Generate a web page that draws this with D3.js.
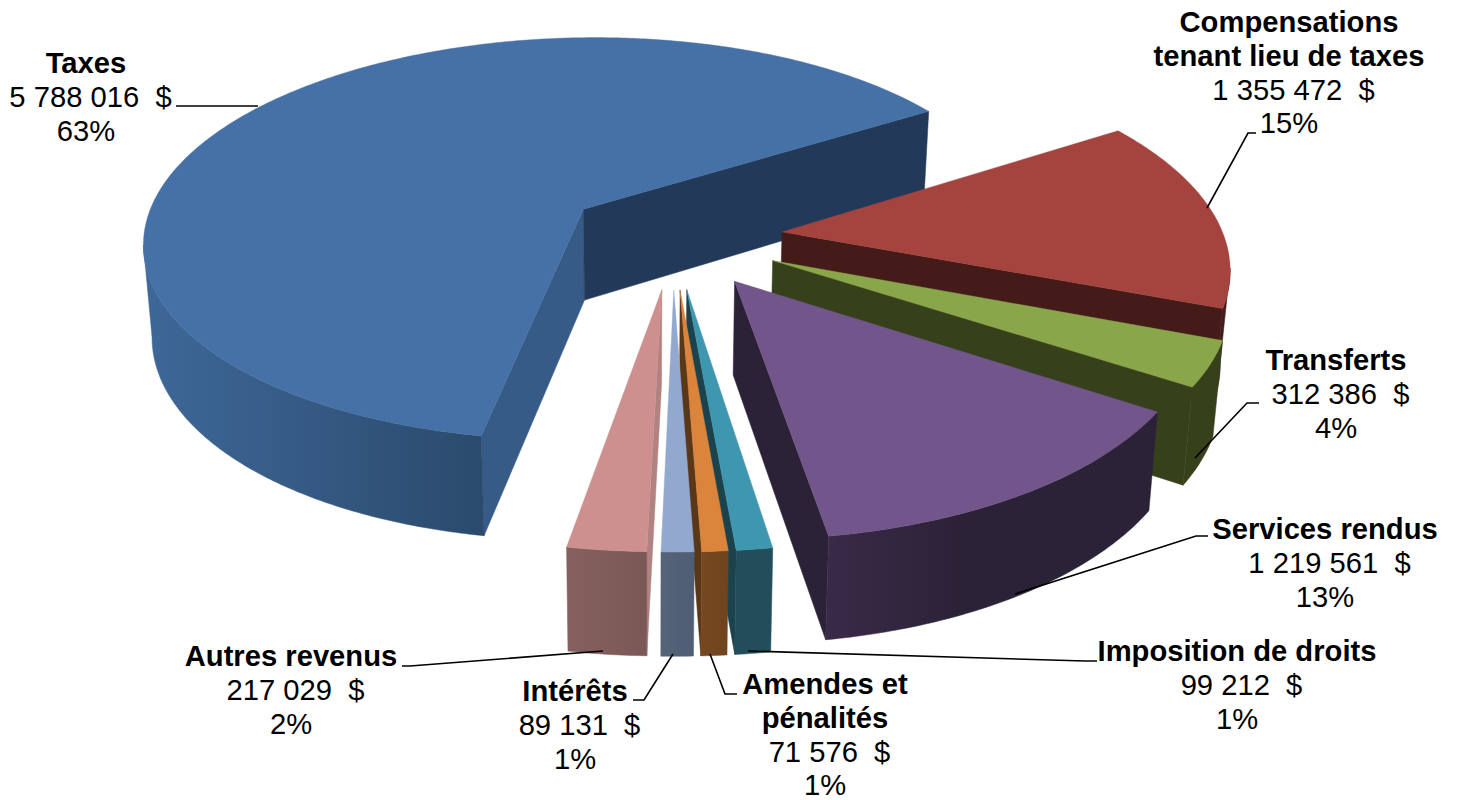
<!DOCTYPE html>
<html>
<head>
<meta charset="utf-8">
<script src="https://d3js.org/d3.v7.min.js"></script>
<style>
  html, body { margin: 0; padding: 0; background: #fff; }
  text { font-family: "Liberation Sans", Arial, sans-serif; font-size: 29.2px; fill: #000; white-space: pre; }
</style>
</head>
<body>
<div id="chart"></div>
<script>
// values
var categories = ["Taxes", "Compensations tenant lieu de taxes", "Transferts", "Services rendus",
  "Imposition de droits", "Amendes et pénalités", "Intérêts", "Autres revenus"];
var amounts = [5788016, 1355472, 312386, 1219561, 99212, 71576, 89131, 217029];
var percentLabels = ["63%", "15%", "4%", "13%", "1%", "1%", "1%", "2%"];

// label wrapping, the chart breaks two of the names over two lines
var nameLines = [["Taxes"], ["Compensations", "tenant lieu de taxes"], ["Transferts"], ["Services rendus"],
  ["Imposition de droits"], ["Amendes et", "pénalités"], ["Intérêts"], ["Autres revenus"]];

// colours
var topColors = ["#4671a7", "#a5433f", "#8aa64a", "#72568b", "#3f97af", "#da843c", "#92a8cf", "#ce908f"];
var startWallColors = ["#375b87", "#451b19", "#36411b", "#2c2238", "#1b434d", "#593717", "#566479", "#b08280"];
var endWallColors = ["#22395a", "#451b19", "#36411b", "#2c2238", "#1b434d", "#593717", "#566479", "#85605e"];
var rimLeftColors = ["#3e6899", "#451b19", "#36411b", "#3a2a48", "#224e5c", "#78481f", "#566479", "#85605e"];
var rimRightColors = ["#2b4a6c", "#451b19", "#36411b", "#2c2238", "#224e5c", "#6e441e", "#4f5d75", "#7a5856"];
var rimFade = [1, 1, 1, 0.4, 1, 1, 1, 1]; // where along the wall the dark end is reached

// label placement: centre x, first baseline
var labelX = [86, 1289, 1336, 1325, 1237, 825, 575, 291];
var labelY = [73, 32, 370, 539, 661, 694, 701, 666];
var lineStep = 33.8;
var amountShift = 4.5; // the amount line has a trailing space in the original

// leader lines, from the slice out to the label
var leaders = [
  [[176, 106], [258, 106]],
  [[1207, 208], [1248, 133], [1256, 133]],
  [[1195, 458], [1247, 403], [1259, 403]],
  [[1015, 594], [1196, 536], [1208, 536]],
  [[748, 651], [1085, 661], [1097, 661]],
  [[710, 654], [725, 694], [737, 694]],
  [[673, 654], [644, 700], [633, 700]],
  [[603, 651], [410, 666], [402, 666]]
];

var svgWidth = 1458;
var svgHeight = 800;

// pie geometry and camera
var radius = 442;
var explode = 110;
var thickness = 92;
var firstAngle = -170.1 * Math.PI / 180;
var centerX = 673;
var centerY = 237;
var camera = 2950;
var tilt = 0.464;
var vanishX = 650;

var svg = d3.select("#chart")
  .append("svg")
  .attr("width", svgWidth)
  .attr("height", svgHeight);

var defs = svg.append("defs");

// world point on the disc -> screen, drop is how far below the top face
function project(wx, wy, drop) {
  var s = 1 / (1 + wy / camera);
  var x = centerX + s * wx;
  var y = centerY - s * tilt * wy;
  if (drop) {
    y += thickness * Math.pow(s, 0.6);
    x = vanishX + (x - vanishX) * 0.983;
  }
  return [x, y];
}

var pie = d3.pie()
  .sort(null)
  .startAngle(firstAngle)
  .endAngle(firstAngle + 2 * Math.PI);

var arcs = pie(amounts);
var line = d3.line();

arcs.forEach(function(d, i) {
  var mid = (d.startAngle + d.endAngle) / 2;
  var ox = explode * Math.sin(mid);
  var oy = explode * Math.cos(mid);

  function rim(a, drop) {
    return project(ox + radius * Math.sin(a), oy + radius * Math.cos(a), drop);
  }
  var apex = project(ox, oy, false);
  var apexLow = project(ox, oy, true);

  var angles = d3.range(d.startAngle, d.endAngle, 0.01).concat([d.endAngle]);
  var g = svg.append("g").attr("class", "slice");

  // the two cut faces, a face turned away from the viewer is skipped
  var startWall = [apex, rim(d.startAngle), rim(d.startAngle, true), apexLow];
  var endWall = [apex, rim(d.endAngle), rim(d.endAngle, true), apexLow];
  if (d3.polygonArea(startWall) > 0) {
    g.append("path")
      .attr("d", line(startWall) + "Z")
      .attr("fill", startWallColors[i])
      .attr("stroke", startWallColors[i])
      .attr("stroke-width", 0.5);
  }
  if (d3.polygonArea(endWall) < 0) {
    g.append("path")
      .attr("d", line(endWall) + "Z")
      .attr("fill", endWallColors[i])
      .attr("stroke", endWallColors[i])
      .attr("stroke-width", 0.5);
  }

  // outer wall, only up to the silhouette of the disc (about 100 degrees either side)
  var front = angles.filter(function(a) { return Math.cos(a) < -0.17; });
  if (front.length > 1) {
    var upper = front.map(function(a) { return rim(a); });
    var lower = front.map(function(a) { return rim(a, true); }).reverse();
    var grad = defs.append("linearGradient")
      .attr("id", "rim" + i)
      .attr("x1", 0).attr("x2", 1).attr("y1", 0).attr("y2", 0);
    grad.append("stop").attr("offset", 0).attr("stop-color", rimLeftColors[i]);
    grad.append("stop").attr("offset", rimFade[i]).attr("stop-color", rimRightColors[i]);
    g.append("path")
      .attr("d", line(upper.concat(lower)) + "Z")
      .attr("fill", "url(#rim" + i + ")")
      .attr("stroke", "url(#rim" + i + ")")
      .attr("stroke-width", 0.5);
  }

  // top face
  var topPts = [apex].concat(angles.map(function(a) { return rim(a); }));
  g.append("path")
    .attr("d", line(topPts) + "Z")
    .attr("fill", topColors[i])
    .attr("stroke", topColors[i])
    .attr("stroke-width", 0.4);
});

// leader lines
svg.append("g").selectAll("path")
  .data(leaders)
  .enter()
  .append("path")
  .attr("d", function(d) { return line(d); })
  .attr("fill", "none")
  .attr("stroke", "#000")
  .attr("stroke-width", 1.6);

// labels
var money = d3.formatLocale({ decimal: ",", thousands: " ", grouping: [3], currency: ["", " $"] }).format(",d");

categories.forEach(function(name, i) {
  var label = svg.append("text")
    .attr("text-anchor", "middle")
    .attr("data-name", name);
  var lines = nameLines[i].map(function(t) { return { t: t, bold: true, dx: 0 }; });
  lines.push({ t: money(amounts[i]) + "  $", bold: false, dx: amountShift });
  lines.push({ t: percentLabels[i], bold: false, dx: 0 });
  lines.forEach(function(l, j) {
    label.append("tspan")
      .attr("x", labelX[i] + l.dx)
      .attr("y", labelY[i] + j * lineStep)
      .attr("font-weight", l.bold ? "bold" : "normal")
      .text(l.t);
  });
});
</script>
</body>
</html>
